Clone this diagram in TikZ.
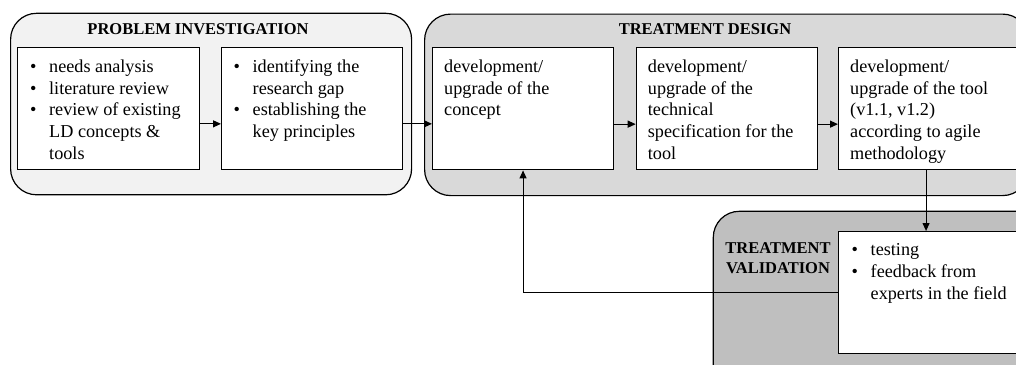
\documentclass[tikz,border=0pt]{standalone}
\usepackage{fontspec}
\setmainfont{Liberation Serif}
\usetikzlibrary{arrows.meta,calc}
\definecolor{pifill}{HTML}{F2F2F2}
\definecolor{tdfill}{HTML}{D9D9D9}
\definecolor{tvfill}{HTML}{BFBFBF}
\newcommand\bodyfont{\fontsize{18.2}{21.7}\selectfont}
\newcommand\titlefont{\bfseries\fontsize{16.5}{20}\selectfont}
\newcommand\bu{\makebox[19pt][l]{\textbullet}}
\newcommand\ind{\hspace*{19pt}}
\newcommand\boxtext[1]{\parbox[t]{200pt}{\raggedright\strut #1}}
\tikzset{
  phase/.style={draw=black, line width=1.2pt, rounded corners=26pt, anchor=north west, inner sep=0pt},
  stepbox/.style={draw=black, line width=1.1pt, fill=white, anchor=north west, inner sep=0pt,
    minimum width=181pt, minimum height=122pt},
  txt/.style={anchor=north west, inner sep=0pt, font=\bodyfont},
  ttl/.style={inner sep=0pt, font=\titlefont},
  arr/.style={-{Triangle[length=8pt,width=7pt]}, line width=1.1pt},
}
\begin{document}
\begin{tikzpicture}[x=1pt,y=-1pt]
\useasboundingbox (0,0) rectangle (1016,364);
\fill[white] (0,0) rectangle (1016,364);
\clip (0,0) rectangle (1016,364);

% phase containers
\node[phase, fill=pifill, minimum width=401pt, minimum height=181.5pt] (PI) at (10,12.7) {};
\node[phase, fill=tdfill, minimum width=604pt, minimum height=181.5pt] (TD) at (424,13.5) {};
\node[phase, fill=tvfill, minimum width=330pt, minimum height=200pt] (TV) at (712.7,210.7) {};

% titles
\node[ttl, anchor=base] (PIt) at (198,34) {PROBLEM INVESTIGATION};
\node[ttl, anchor=base] (TDt) at (705,34) {TREATMENT DESIGN};
\node[ttl, anchor=north] (TVt) at (778,239.5) {\parbox[t]{130pt}{\centering\strut TREATMENT\\VALIDATION}};

% step boxes
\node[stepbox, minimum width=182pt] (A) at (17,47.3) {};
\node[stepbox] (B) at (221,47.3) {};
\node[stepbox] (C) at (432,47.3) {};
\node[stepbox] (D) at (635.7,47.3) {};
\node[stepbox] (E) at (838,47.3) {};
\node[stepbox] (W) at (838,231) {};

% texts
\node[txt] (At) at ($(A.north west)+(13,9.8)$) {\boxtext{\bu needs analysis\\
  \bu literature review\\ \bu review of existing\\ \ind LD concepts \&\\ \ind tools}};
\node[txt] (Bt) at ($(B.north west)+(12.5,9.8)$) {\boxtext{\bu identifying the\\
  \ind research gap\\ \bu establishing the\\ \ind key principles}};
\node[txt] (Ct) at ($(C.north west)+(12,9.8)$) {\boxtext{development/\\
  upgrade of the\\ concept}};
\node[txt] (Dt) at ($(D.north west)+(12,9.8)$) {\boxtext{development/\\
  upgrade of the\\ technical\\ specification for the\\ tool}};
\node[txt] (Et) at ($(E.north west)+(12,9.8)$) {\boxtext{development/\\
  upgrade of the tool\\ (v1.1, v1.2)\\ according to agile\\ methodology}};
\node[txt] (Wt) at ($(W.north west)+(13.5,9.5)$) {\boxtext{\bu testing\\
  \bu feedback from\\ \ind experts in the field}};

% connectors
\draw[arr] ([yshift=-15pt]A.east) -- ([yshift=-15pt]B.west);
\draw[arr] ([yshift=-15pt]B.east) -- ([yshift=-15pt]C.west);
\draw[arr] ([yshift=-15.3pt]C.east) -- ([yshift=-15.3pt]D.west);
\draw[arr] ([yshift=-15.3pt]D.east) -- ([yshift=-15.3pt]E.west);
\draw[arr] ([xshift=-3pt]E.south) -- ([xshift=-3pt]W.north);
\draw[arr] (W.west) -| (C.south);
\end{tikzpicture}
\end{document}
